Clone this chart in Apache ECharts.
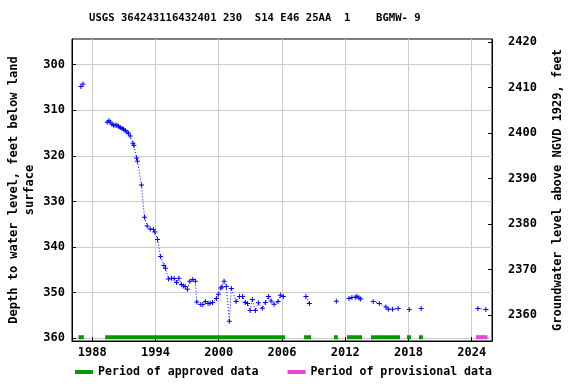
<!DOCTYPE html>
<html>
<head>
<meta charset="utf-8">
<script src="https://cdn.jsdelivr.net/npm/echarts@6/dist/echarts.min.js"></script>
<style>html,body{margin:0;padding:0;background:#fff}#c{width:576px;height:384px}</style>
</head>
<body>
<div id="c"></div>
<script>
// Measurement dates (decimal years); null breaks the dotted line
const years = [1986.93, 1987.12, null,
  1989.42, 1989.58, 1989.71, 1989.87, 1990.02, 1990.18, 1990.34, 1990.49, 1990.65, 1990.82, 1990.97,
  1991.13, 1991.29, 1991.44, 1991.60, 1991.86, 1991.95, 1992.20, 1992.29, 1992.67, 1992.96, 1993.21,
  1993.50, 1993.81, 1993.94, 1994.19, 1994.47, 1994.80, 1994.95, 1995.23, 1995.52, 1995.77, 1995.99,
  1996.22, 1996.46, 1996.65, 1996.82, 1997.03, 1997.26, 1997.55, 1997.79, 1997.92, 1998.30, 1998.49,
  1998.74, 1998.99, 1999.18, 1999.42, 1999.78, 1999.97, 2000.20, 2000.32, 2000.51, 2000.72, 2001.01,
  2001.20, 2001.65, 2001.98, 2002.27, 2002.52, 2002.74, 2002.98, 2003.19, 2003.48, 2003.76, 2004.14,
  2004.43, 2004.71, 2004.97, 2005.25, 2005.63, 2005.85, 2006.13, null,
  2008.28, 2008.60, null,
  2011.16, null,
  2012.36, 2012.64, 2012.96, 2013.12, 2013.31, 2013.47, null,
  2014.66, 2015.23, 2015.87, 2016.09, 2016.50, 2017.03, null,
  2018.08, null,
  2019.21, null,
  2024.59, 2025.35];
// Depth to water level, feet below land surface
const depths = [304.77, 304.25, null,
  312.60, 312.32, 312.60, 313.04, 313.26, 313.26, 313.26, 313.48, 313.79, 314.01, 314.14,
  314.45, 314.74, 315.02, 315.62, 317.22, 317.66, 320.46, 321.18, 326.40, 333.50, 335.42,
  336.08, 336.14, 336.74, 338.34, 342.08, 344.06, 344.65, 347.01, 346.85, 346.92, 347.80,
  346.85, 348.24, 348.55, 348.68, 349.27, 347.51, 347.14, 347.51, 352.07, 352.64, 352.64,
  351.98, 352.42, 352.35, 352.20, 351.32, 350.37, 348.99, 348.77, 347.51, 348.66, 356.31,
  349.10, 351.96, 350.86, 350.86, 352.20, 352.42, 353.94, 351.52, 353.94, 352.24, 353.45,
  352.20, 350.88, 351.85, 352.57, 351.96, 350.59, 350.88, null,
  350.88, 352.42, null,
  351.91, null,
  351.32, 351.10, 351.03, 350.81, 351.19, 351.41, null,
  351.96, 352.42, 353.17, 353.67, 353.67, 353.52, null,
  353.74, null,
  353.52, null,
  353.52, 353.74];
// Data approval periods (start, end in decimal years)
const approvedStart = [1986.70, 1989.23, 2008.10, 2010.94, 2012.17, 2014.45, 2017.86, 2019.00];
const approvedEnd   = [1987.20, 2006.30, 2008.76, 2011.30, 2013.60, 2017.20, 2018.24, 2019.37];
const provisionalStart = [2024.40];
const provisionalEnd   = [2025.50];
const xTicks = [1988, 1994, 2000, 2006, 2012, 2018, 2024];
const depthTicks = [300, 310, 320, 330, 340, 350, 360];
const elevTicks = [2360, 2370, 2380, 2390, 2400, 2410, 2420];
const datumOffset = 2715; // elevation = datumOffset - depth

const barDepth = 359.8;
function periodLine(starts, ends) {
  const out = [];
  starts.forEach((s, i) => {
    if (i > 0) out.push([ (ends[i-1] + s) / 2, null ]);
    out.push([s, barDepth]);
    out.push([ends[i], barDepth]);
  });
  return out;
}
const gwData = years.map((y, i) => [y === null ? (years[i-1] + 0.01) : y, depths[i]]);

const depthMin = 294.35, depthMax = 360.64;
const font = 'DejaVu Sans Mono';
const chart = echarts.init(document.getElementById('c'), null, {renderer: 'canvas'});
chart.setOption({
  animation: false,
  backgroundColor: '#ffffff',
  title: {
    text: 'USGS 364243116432401 230  S14 E46 25AA  1    BGMW- 9',
    left: 89, top: 13, padding: 0,
    textStyle: {fontFamily: font, fontWeight: 'bold', fontSize: 10.6, color: '#000'}
  },
  grid: {left: 72, top: 39, width: 420, height: 302, containLabel: false, outerBoundsMode: 'none',
    show: true, borderColor: '#000', borderWidth: 1, backgroundColor: 'transparent'},
  legend: {
    left: 75, top: 366, padding: 0, itemWidth: 18, itemHeight: 4, itemGap: 29, icon: 'rect',
    textStyle: {fontFamily: font, fontWeight: 'bold', fontSize: 11.6, color: '#000'},
    data: ['Period of approved data', 'Period of provisional data']
  },
  xAxis: {
    type: 'value', min: 1986.08, max: 2025.93,
    axisLine: {show: true, lineStyle: {color: '#000'}},
    axisTick: {show: true, inside: true, length: 4, customValues: xTicks, lineStyle: {color: '#000'}},
    axisLabel: {customValues: xTicks, fontFamily: font, fontWeight: 'bold', fontSize: 12, color: '#000', margin: 6, formatter: v => String(v)},
    splitLine: {show: true, lineStyle: {color: '#cccccc', width: 1}}
  },
  yAxis: [{
    type: 'value', inverse: true, min: depthMin, max: depthMax, position: 'left',
    name: 'Depth to water level, feet below land\nsurface',
    nameLocation: 'middle', nameGap: 34, nameRotate: 90, nameMoveOverlap: false,
    nameTextStyle: {fontFamily: font, fontWeight: 'bold', fontSize: 12, color: '#000', lineHeight: 16},
    axisLine: {show: true, lineStyle: {color: '#000'}},
    axisTick: {show: true, inside: true, length: 4, customValues: depthTicks, lineStyle: {color: '#000'}},
    axisLabel: {customValues: depthTicks, fontFamily: font, fontWeight: 'bold', fontSize: 12, color: '#000', margin: 7, formatter: v => String(v)},
    splitLine: {show: true, lineStyle: {color: '#cccccc', width: 1}}
  }, {
    type: 'value', min: datumOffset - depthMax, max: datumOffset - depthMin, position: 'right',
    name: 'Groundwater level above NGVD 1929, feet',
    nameLocation: 'middle', nameGap: 60, nameRotate: 90, nameMoveOverlap: false,
    nameTextStyle: {fontFamily: font, fontWeight: 'bold', fontSize: 12, color: '#000'},
    axisLine: {show: true, lineStyle: {color: '#000'}},
    axisTick: {show: true, inside: true, length: 4, customValues: elevTicks, lineStyle: {color: '#000'}},
    axisLabel: {customValues: elevTicks, fontFamily: font, fontWeight: 'bold', fontSize: 12, color: '#000', margin: 16, formatter: v => String(v)},
    splitLine: {show: false}
  }],
  series: [{
    name: 'Depth', type: 'line', yAxisIndex: 0, data: gwData, connectNulls: false,
    symbol: 'path://M2,0H3V2H5V3H3V5H2V3H0V2H2Z', symbolSize: 5, showSymbol: true,
    itemStyle: {color: '#0000ff'},
    lineStyle: {color: '#0000ff', width: 1, type: [1, 2]},
    z: 5
  }, {
    name: 'Period of approved data', type: 'line', yAxisIndex: 0,
    data: periodLine(approvedStart, approvedEnd), connectNulls: false, showSymbol: false, symbol: 'none',
    itemStyle: {color: '#009900'}, lineStyle: {color: '#009900', width: 4, cap: 'butt'}, z: 4
  }, {
    name: 'Period of provisional data', type: 'line', yAxisIndex: 0,
    data: periodLine(provisionalStart, provisionalEnd), connectNulls: false, showSymbol: false, symbol: 'none',
    itemStyle: {color: '#ee44dd'}, lineStyle: {color: '#ee44dd', width: 4, cap: 'butt'}, z: 4
  }]
});
</script>
</body>
</html>
